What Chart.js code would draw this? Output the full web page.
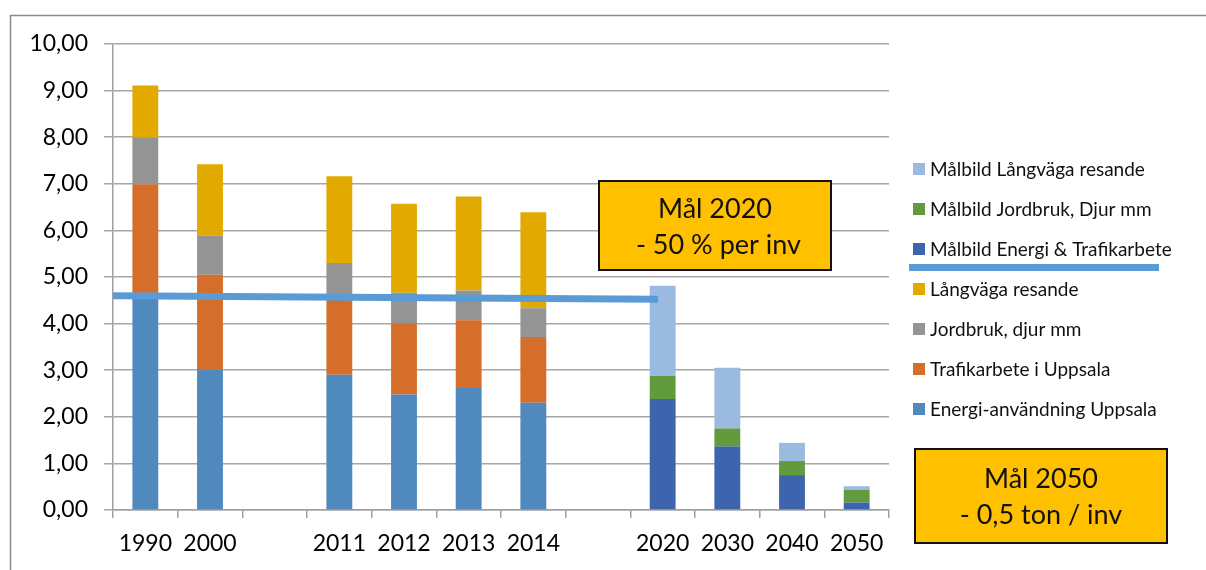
<!DOCTYPE html>
<html>
<head>
<meta charset="utf-8">
<script src="https://cdn.jsdelivr.net/npm/chart.js@4/dist/chart.umd.min.js"></script>
<style>
  html, body { margin: 0; padding: 0; background: #fff; }
  #wrap { width: 1206px; height: 570px; position: relative; }
</style>
</head>
<body>
<div id="wrap"><canvas id="utslapp" width="1206" height="570"></canvas></div>
<script>
// kategorier (tomma platser = luckor i diagrammet)
var labels = ['1990', '2000', '', '2011', '2012', '2013', '2014', '', '2020', '2030', '2040', '2050'];

// ton CO2e per invånare
var energi   = [4.60, 3.02, null, 2.90, 2.48, 2.62, 2.30, null, null, null, null, null];
var trafik   = [2.39, 2.03, null, 1.65, 1.53, 1.45, 1.41, null, null, null, null, null];
var jordbruk = [1.01, 0.84, null, 0.75, 0.65, 0.64, 0.62, null, null, null, null, null];
var langvaga = [1.11, 1.53, null, 1.86, 1.91, 2.02, 2.06, null, null, null, null, null];

var malEnergi = [null, null, null, null, null, null, null, null, 2.38, 1.36, 0.75, 0.16];
var malJord   = [null, null, null, null, null, null, null, null, 0.50, 0.39, 0.30, 0.27];
var malLang   = [null, null, null, null, null, null, null, null, 1.93, 1.30, 0.39, 0.08];

// målinje -50 % (x i kategoribredder från vänster kant)
var linjeX = [0, 8.43];
var linjeY = [4.60, 4.52];

var yTicks = [0, 1, 2, 3, 4, 5, 6, 7, 8, 9, 10];

var rutor = [
	{ rad1: 'Mål 2020', rad2: ' - 50 % per inv' },
	{ rad1: 'Mål 2050', rad2: '- 0,5 ton / inv' }
];

var FONT = 'Lato, "Liberation Sans", sans-serif';

function bar(label, data, color) {
	return {
		type: 'bar',
		label: label,
		data: data,
		backgroundColor: color,
		borderWidth: 0,
		order: 1,
		grouped: false,
		categoryPercentage: 1,
		barPercentage: 0.4
	};
}

var datasets = [
	bar('Energi-användning Uppsala', energi, '#4f89bd'),
	bar('Trafikarbete i Uppsala', trafik, '#d46e2a'),
	bar('Jordbruk, djur mm', jordbruk, '#949494'),
	bar('Långväga resande', langvaga, '#e2aa00'),
	bar('Målbild Energi & Trafikarbete', malEnergi, '#3d65ad'),
	bar('Målbild Jordbruk, Djur mm', malJord, '#629a3e'),
	bar('Målbild Långväga resande', malLang, '#9abae0'),
	{
		type: 'line',
		label: '',
		data: linjeX.map(function (x, i) { return { x: x, y: linjeY[i] }; }),
		xAxisID: 'xl',
		borderColor: '#5b9bd5',
		borderWidth: 7,
		pointRadius: 0,
		order: 0
	}
];

// ram, legend och textrutor
var extras = {
	id: 'extras',
	beforeDraw: function (chart) {
		var ctx = chart.ctx;
		ctx.save();
		ctx.strokeStyle = '#8c8c8c';
		ctx.lineWidth = 1.5;
		ctx.strokeRect(10.5, 15.5, 1400, 800);
		ctx.restore();
	},
	afterDraw: function (chart) {
		var ctx = chart.ctx;
		var ds = chart.data.datasets;
		ctx.save();

		// legend
		var order = [6, 5, 4, 3, 2, 1, 0];
		ctx.font = '19px ' + FONT;
		ctx.textBaseline = 'middle';
		ctx.textAlign = 'left';
		order.forEach(function (idx, i) {
			var y = 169 + i * 40;
			ctx.fillStyle = ds[idx].backgroundColor;
			ctx.fillRect(913, y - 6, 12, 12);
			ctx.fillStyle = '#111';
			ctx.fillText(ds[idx].label, 930, y + 1);
		});
		ctx.strokeStyle = ds[7].borderColor;
		ctx.lineWidth = 7;
		ctx.beginPath();
		ctx.moveTo(909, 267.5);
		ctx.lineTo(1159, 267.5);
		ctx.stroke();

		// textrutor
		var boxar = [
			{ x: 599, y: 181, w: 232, h: 89 },
			{ x: 915, y: 449, w: 252, h: 94 }
		];
		boxar.forEach(function (b, i) {
			var cx = b.x + b.w / 2, cy = b.y + b.h / 2;
			ctx.fillStyle = '#ffc000';
			ctx.fillRect(b.x, b.y, b.w, b.h);
			ctx.strokeStyle = '#111';
			ctx.lineWidth = 2;
			ctx.strokeRect(b.x, b.y, b.w, b.h);
			ctx.fillStyle = '#111';
			ctx.font = '27px ' + FONT;
			ctx.textAlign = 'center';
			ctx.textBaseline = 'alphabetic';
			ctx.fillText(rutor[i].rad1, cx, cy - 8);
			ctx.fillText(rutor[i].rad2, cx, cy + 28);
		});
		ctx.restore();
	}
};

new Chart(document.getElementById('utslapp').getContext('2d'), {
	data: { labels: labels, datasets: datasets },
	options: {
		responsive: false,
		animation: false,
		devicePixelRatio: 1,
		layout: { padding: { left: 0, top: 44, right: 317, bottom: 0 } },
		plugins: { legend: { display: false }, tooltip: { enabled: false } },
		scales: {
			x: {
				stacked: true,
				offset: true,
				afterFit: function (s) { s.height = 60; },
				grid: { offset: true, drawOnChartArea: false, tickLength: 8, color: '#a0a0a0', lineWidth: 1.5 },
				border: { color: '#a0a0a0', width: 1.5 },
				ticks: { color: '#000', font: { family: FONT, size: 23 }, padding: 12, maxRotation: 0, autoSkip: false }
			},
			xl: {
				type: 'linear',
				display: false,
				min: 0,
				max: labels.length
			},
			y: {
				stacked: true,
				min: 0,
				max: 10,
				afterFit: function (s) { s.width = 113; },
				afterBuildTicks: function (s) { s.ticks = yTicks.map(function (v) { return { value: v }; }); },
				grid: { color: '#a6a6a6', lineWidth: 1.5, tickLength: 9 },
				border: { color: '#a0a0a0', width: 1.5 },
				ticks: {
					color: '#000',
					font: { family: FONT, size: 23 },
					padding: 16,
					callback: function (v) { return v.toFixed(2).replace('.', ','); }
				}
			}
		}
	},
	plugins: [extras]
});
</script>
</body>
</html>
